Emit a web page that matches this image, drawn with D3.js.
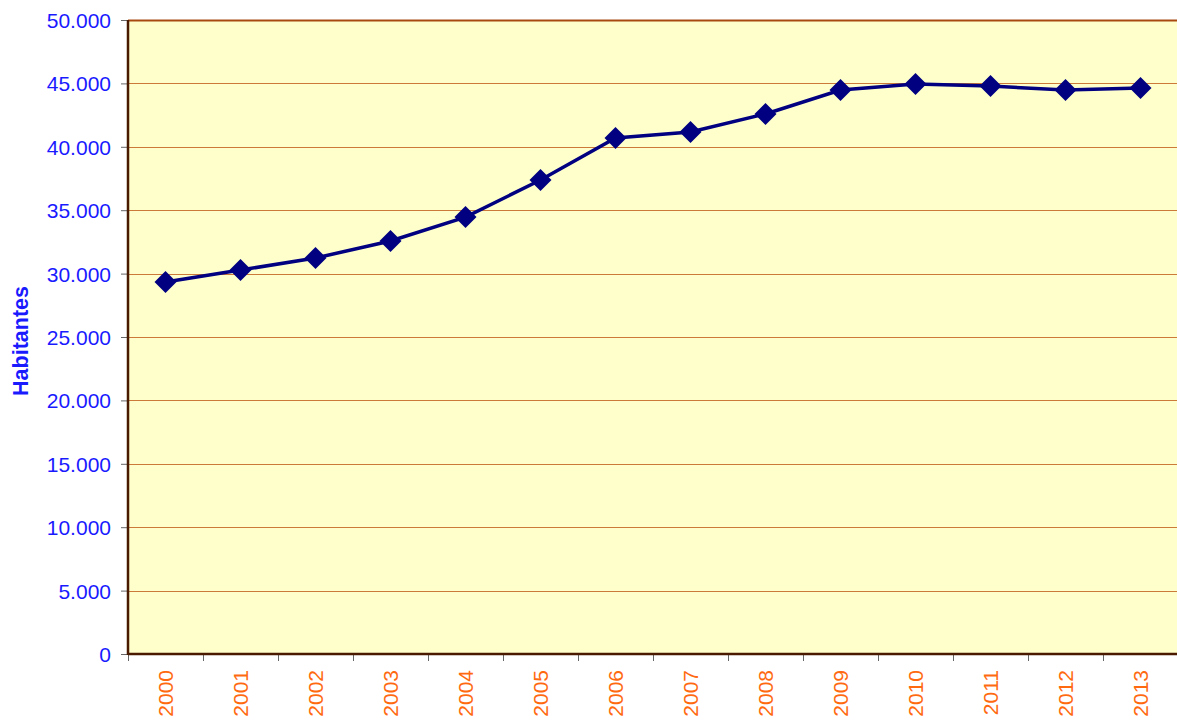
<!DOCTYPE html>
<html><head><meta charset="utf-8">
<script src="https://cdn.jsdelivr.net/npm/d3@7"></script>
<style>body{margin:0;background:#fff}svg{display:block;font-family:Arial,"Liberation Sans",sans-serif}</style>
</head><body><svg id="c" width="1177" height="720"></svg>
<script>
const years = ["2000","2001","2002","2003","2004","2005","2006","2007","2008","2009","2010","2011","2012","2013"];
const habitantes = [29340,30280,31230,32570,34460,37380,40690,41170,42590,44480,44950,44790,44480,44640];
const yTicks = [0,5000,10000,15000,20000,25000,30000,35000,40000,45000,50000];

const svg = d3.select("#c");
const L=128, R=1178, T=20, B=654;
const x = d3.scaleBand().domain(years).range([L,R]);
const y = d3.scaleLinear().domain([0,50000]).range([B,T]);
const fmt = v => v===0 ? "0" : d3.format(",")(v).replace(/,/g,".");

svg.append("rect").attr("x",L).attr("y",T).attr("width",R-L).attr("height",B-T).attr("fill","#FFFFCC");
svg.append("g").selectAll("line").data(yTicks.filter(d=>d>0&&d<50000)).join("line")
  .attr("x1",L).attr("x2",R).attr("y1",d=>Math.round(y(d))+0.5).attr("y2",d=>Math.round(y(d))+0.5)
  .attr("stroke","#CC7A3A").attr("stroke-width",1);
svg.append("line").attr("x1",L).attr("x2",R).attr("y1",T+0.5).attr("y2",T+0.5).attr("stroke","#A84A10").attr("stroke-width",2);

const ya = svg.append("g").attr("transform",`translate(${L},0)`)
  .call(d3.axisLeft(y).tickValues(yTicks).tickFormat(fmt).tickSize(7).tickPadding(10));
ya.select(".domain").remove();
ya.selectAll(".tick line").attr("stroke","#666");
ya.selectAll("text").attr("fill","#1A1AFF").style("font-size","21px").attr("dy","0.36em");

const xa = svg.append("g").attr("transform",`translate(0,${B})`)
  .call(d3.axisBottom(x).tickSize(0));
xa.select(".domain").remove();
xa.selectAll("text").attr("fill","#FF6A10").style("font-size","21px")
  .attr("transform","rotate(-90)").attr("text-anchor","end").attr("dy","0.36em").attr("dx","-16px").attr("y",0).attr("x",0);
svg.append("g").selectAll("line").data(years.concat(["end"])).join("line")
  .attr("x1",(d,i)=>Math.round(L+i*x.step())+0.5).attr("x2",(d,i)=>Math.round(L+i*x.step())+0.5)
  .attr("y1",B).attr("y2",B+7).attr("stroke","#666");

svg.append("line").attr("x1",L).attr("x2",R).attr("y1",B).attr("y2",B).attr("stroke","#4A1A00").attr("stroke-width",2.5);
svg.append("line").attr("x1",L).attr("x2",L).attr("y1",T).attr("y2",B+1).attr("stroke","#4A1A00").attr("stroke-width",2.5);

svg.append("text").attr("transform","translate(28,341) rotate(-90)").attr("text-anchor","middle")
  .attr("fill","#1A1AFF").style("font-size","21.5px").style("font-weight","bold").text("Habitantes");

const cx = d => x(d)+x.bandwidth()/2;
svg.append("path").datum(habitantes.map((v,i)=>[cx(years[i]),y(v)]))
  .attr("d",d3.line()).attr("fill","none").attr("stroke","#000080").attr("stroke-width",3.5);
svg.append("g").selectAll("path").data(habitantes).join("path")
  .attr("transform",(d,i)=>`translate(${cx(years[i])},${y(d)})`)
  .attr("d","M0,-11L11,0L0,11L-11,0Z").attr("fill","#000080");
</script></body></html>
